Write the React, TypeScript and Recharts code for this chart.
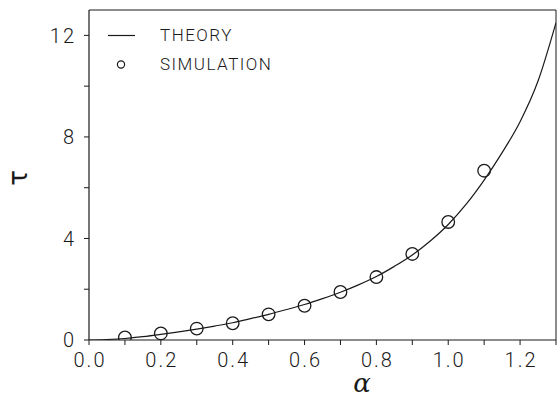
import React from "react";
import {
  ComposedChart,
  Line,
  Scatter,
  XAxis,
  YAxis,
  ReferenceLine,
} from "recharts";

// Theory curve
const theoryAlpha = [0, 0.05, 0.1, 0.15, 0.2, 0.25, 0.3, 0.35, 0.4, 0.45, 0.5, 0.55, 0.6, 0.65, 0.7, 0.75, 0.8, 0.85, 0.9, 0.95, 1.0, 1.05, 1.1, 1.15, 1.2, 1.25, 1.3];
const theoryTau = [0, 0.02, 0.06, 0.13, 0.22, 0.32, 0.43, 0.55, 0.68, 0.84, 1.01, 1.2, 1.4, 1.63, 1.88, 2.17, 2.5, 2.9, 3.35, 3.9, 4.55, 5.35, 6.3, 7.38, 8.6, 10.2, 12.5];

// Simulation points
const simAlpha = [0.1, 0.2, 0.3, 0.4, 0.5, 0.6, 0.7, 0.8, 0.9, 1.0, 1.1];
const simTau = [0.1, 0.26, 0.45, 0.66, 1.01, 1.35, 1.89, 2.48, 3.39, 4.65, 6.67];

const xTicks = [0, 0.1, 0.2, 0.3, 0.4, 0.5, 0.6, 0.7, 0.8, 0.9, 1.0, 1.1, 1.2, 1.3];
const xLabels = ["0.0", "0.2", "0.4", "0.6", "0.8", "1.0", "1.2"];
const yTicks = [0, 2, 4, 6, 8, 10, 12];
const yLabels = ["0", "4", "8", "12"];
const legendNames = ["THEORY", "SIMULATION"];

const theoryData = theoryAlpha.map((x, i) => ({ x, theory: theoryTau[i] }));
const simData = simAlpha.map((x, i) => ({ x, sim: simTau[i] }));

const FONT = "Roboto, 'DejaVu Sans', sans-serif";
const INK = "#1a1a1a";

const XTick = (props: any) => {
  const { x, y, payload } = props;
  const label = payload.value.toFixed(1);
  if (!xLabels.includes(label)) return <g />;
  return (
    <text x={x + 1} y={y} dy="0.72em" textAnchor="middle" fontFamily={FONT} fontWeight={300} fontSize={20} fill={INK} style={{ letterSpacing: 2 }}>
      {label}
    </text>
  );
};

const YTick = (props: any) => {
  const { x, y, payload } = props;
  const label = String(payload.value);
  if (!yLabels.includes(label)) return <g />;
  return (
    <text x={x} y={y} dy="0.36em" textAnchor="end" fontFamily={FONT} fontWeight={300} fontSize={20} fill={INK} style={{ letterSpacing: 2 }}>
      {label}
    </text>
  );
};

const LegendBox = () => (
  <div style={{ position: "absolute", left: 108, top: 21, fontFamily: FONT, fontWeight: 300, fontSize: 17, color: INK, letterSpacing: 1.5, lineHeight: "29px" }}>
    <div style={{ display: "flex", alignItems: "center", height: 29 }}>
      <svg width={52} height={29} style={{ display: "block" }}>
        <line x1={0} y1={14.5} x2={27} y2={14.5} stroke={INK} strokeWidth={1.2} />
      </svg>
      <span>{legendNames[0]}</span>
    </div>
    <div style={{ display: "flex", alignItems: "center", height: 29 }}>
      <svg width={52} height={29} style={{ display: "block" }}>
        <circle cx={13} cy={14.5} r={3.6} fill="none" stroke={INK} strokeWidth={1.2} />
      </svg>
      <span>{legendNames[1]}</span>
    </div>
  </div>
);

const SimDot = (props: any) => {
  const { cx, cy } = props;
  return <circle cx={cx} cy={cy} r={6.3} fill="none" stroke={INK} strokeWidth={1.3} />;
};

export default function App() {
  return (
    <div style={{ position: "absolute", left: 0, top: 0, width: 558, height: 404, background: "#fff" }}>
      <ComposedChart width={558} height={404} margin={{ top: 10, right: 2, left: 0, bottom: 0 }}>
        <XAxis
          type="number"
          dataKey="x"
          domain={[0, 1.3]}
          ticks={xTicks}
          interval={0}
          allowDataOverflow
          height={64}
          tickSize={5}
          tickMargin={8}
          axisLine={{ stroke: INK, strokeWidth: 1.2 }}
          tickLine={{ stroke: INK, strokeWidth: 1 }}
          tick={<XTick />}
        />
        <YAxis
          type="number"
          domain={[0, 13]}
          ticks={yTicks}
          interval={0}
          allowDataOverflow
          width={89}
          tickSize={5}
          tickMargin={8}
          axisLine={{ stroke: INK, strokeWidth: 1.2 }}
          tickLine={{ stroke: INK, strokeWidth: 1 }}
          tick={<YTick />}
        />
        <ReferenceLine y={13} stroke={INK} strokeWidth={1} ifOverflow="visible" />
        <ReferenceLine x={1.3} stroke={INK} strokeWidth={1} ifOverflow="visible" />
        <Line
          data={theoryData}
          dataKey="theory"
          type="monotone"
          stroke={INK}
          strokeWidth={1.2}
          dot={false}
          activeDot={false}
          isAnimationActive={false}
        />
        <Scatter data={simData} dataKey="sim" shape={<SimDot />} isAnimationActive={false} />
        <text x={362} y={392} textAnchor="middle" fontFamily="'DejaVu Serif', serif" fontStyle="italic" fontSize={26} fill={INK}>
          α
        </text>
        <text x={18} y={178} textAnchor="middle" dominantBaseline="central" transform="rotate(-90 18 178)" fontFamily="'DejaVu Sans', sans-serif" fontSize={26} fill={INK}>
          τ
        </text>
      </ComposedChart>
      <LegendBox />
    </div>
  );
}
